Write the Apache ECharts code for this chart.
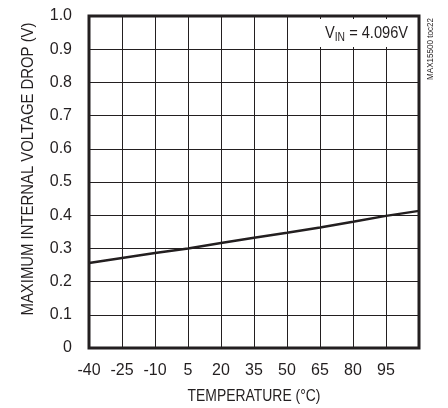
<!DOCTYPE html>
<html>
<head>
<meta charset="utf-8">
<script src="https://cdn.jsdelivr.net/npm/echarts@6/dist/echarts.min.js"></script>
<style>
html,body{margin:0;padding:0;background:#fff;}
#c{width:448px;height:408px;}
</style>
</head>
<body>
<div id="c"></div>
<script>
// Data
var temps = [-40, -25, -10, 5, 20, 35, 50, 65, 80, 95, 110];
var drops = [0.256, 0.271, 0.286, 0.300, 0.316, 0.332, 0.347, 0.363, 0.380, 0.398, 0.413];
var xTickLabels = ['-40', '-25', '-10', '5', '20', '35', '50', '65', '80', '95', ''];
var XMIN = -40, XMAX = 110, XSTEP = 15;
var xTitle = 'TEMPERATURE (°C)';
var yTitle = 'MAXIMUM INTERNAL VOLTAGE DROP (V)';

var FONT = '"Liberation Sans", Arial, sans-serif';
var INK = '#231f20';

var chart = echarts.init(document.getElementById('c'), null, {renderer: 'canvas'});
var seriesData = temps.map(function (t, i) { return [t - XMIN, drops[i]]; });

chart.setOption({
  animation: false,
  backgroundColor: '#fff',
  grid: {
    left: 89, right: 29, top: 16, bottom: 60,
    show: true, borderColor: INK, borderWidth: 3, backgroundColor: 'transparent'
  },
  xAxis: {
    type: 'value', min: 0, max: XMAX - XMIN, interval: XSTEP,
    axisLine: {show: false}, axisTick: {show: false},
    axisLabel: {
      fontFamily: FONT, fontSize: 16, color: INK, margin: 15,
      formatter: function (v) { return xTickLabels[Math.round(v / XSTEP)] || ''; }
    },
    splitLine: {show: true, lineStyle: {color: INK, width: 1}}
  },
  yAxis: {
    type: 'value', min: 0, max: 1, interval: 0.1,
    axisLine: {show: false}, axisTick: {show: false},
    axisLabel: {
      fontFamily: FONT, fontSize: 16, color: INK, margin: 17,
      formatter: function (v) {
        if (Math.abs(v) < 1e-9) return '0';
        return v.toFixed(1);
      }
    },
    splitLine: {show: true, lineStyle: {color: INK, width: 1}}
  },
  series: [{
    type: 'line', data: seriesData, symbol: 'none', smooth: false,
    lineStyle: {color: INK, width: 2.5}, z: 5
  }],
  graphic: [
    {
      type: 'text', z: 11, x: 254, y: 397, scaleX: 0.87,
      style: {
        text: xTitle, fontFamily: FONT, fontSize: 16, fill: INK,
        align: 'center', verticalAlign: 'middle'
      }
    },
    {
      type: 'text', z: 11, x: 29, y: 169, rotation: Math.PI / 2, scaleX: 0.93,
      style: {
        text: yTitle, fontFamily: FONT, fontSize: 16, fill: INK,
        align: 'center', verticalAlign: 'middle'
      }
    },
    {
      type: 'rect', z: 10,
      shape: {x: 316, y: 19, width: 101, height: 28},
      style: {fill: '#fff'}
    },
    {
      type: 'text', z: 11, x: 325, y: 33, scaleX: 0.86,
      style: {
        text: '{v|V}{s|IN}{v| = 4.096V}',
        verticalAlign: 'middle',
        rich: {
          v: {fontFamily: FONT, fontSize: 17, fill: INK},
          s: {fontFamily: FONT, fontSize: 12, fill: INK, padding: [9, 0, 0, 0]}
        }
      }
    },
    {
      type: 'text', z: 11, x: 430, y: 18, rotation: Math.PI / 2, scaleX: 0.85,
      style: {
        text: 'MAX15500 toc22', fontFamily: FONT, fontSize: 9.5, fill: INK,
        align: 'right', verticalAlign: 'middle'
      }
    }
  ]
});
</script>
</body>
</html>
